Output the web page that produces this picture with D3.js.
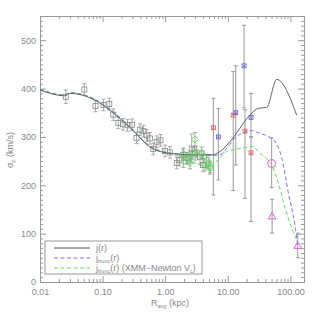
<!DOCTYPE html>
<html><head><meta charset="utf-8">
<script src="https://cdn.jsdelivr.net/npm/d3@7"></script>
<style>
body{margin:0;background:#fff;}
text{font-family:"Liberation Sans",Arial,sans-serif;fill:#888;}
</style></head>
<body><svg id="c" width="315" height="331"></svg>
<script>
// ---- data ----
const jR_r = [0.01,0.0248,0.0301,0.0703,0.147,0.306,0.571,1.07,2.78,5.8,6.97,10.8,22.6,30.4,41.8,60.4,126];
const jR_v = [397,385,390,378,350,313,279,267,263,263,267,290,345,359,361,419,345];
const blue_r = [0.01,0.0248,0.0301,0.0703,0.147,0.306,0.571,1.07,2.78,5.8,7.5,9.6,13,18.8,24,30,44,57,73,92,118,131];
const blue_v = [398,386,391,379,351,314,280,267,263,262,263,276,298,310,313,309,301,290,256,187,118,76];
const green_r = [0.01,0.0248,0.0301,0.0703,0.147,0.306,0.571,1.07,1.72,3.6,4.66,6.2,9.6,13,18.8,25.3,30.4,43.9,52.7,63.4,82,105,126];
const green_v = [399,387,392,380,352,315,281,268,259,242,236,246,270,274,278,280,270,252,236,207,153,112,87];

const sq_r = [0.0258,0.0511,0.0771,0.1033,0.128,0.148,0.178,0.212,0.250,0.295,0.348,0.396,0.450,0.506,0.571,0.645,0.731,0.841,0.993,1.19,1.53,1.69,1.95,2.29,2.65,2.99,3.60,4.02];
const sq_v = [383,398,364,366,368,346,329,326,324,325,298,315,312,303,297,275,290,293,271,268,246,252,263,256,276,266,258,242];
const sq_e = [14,12,12,12,12,12,12,12,12,12,12,12,12,12,12,12,12,12,12,12,12,12,12,12,30,14,14,14];

const dm_r = [2.99,1.95,2.20,2.49,2.75,3.18,3.83,4.06,4.60,4.88,5.20,1.95,2.49,4.33,5.20];
const dm_v = [295,265,256,259,266,269,267,259,252,246,238,249,246,242,235];
const dm_e = [14,12,12,12,12,12,12,12,12,12,12,12,12,12,12];

const red_r = [5.88,12.2,18.8,23.5];
const red_v = [319,345,312,267];
const red_lo = [180,189,173,125];
const red_hi = [380,435,356,300];
const blu_r = [7.07,13.4,18.2,23.5];
const blu_v = [300,350,447,340];
const blu_lo = [211,242,360,300];
const blu_hi = [359,447,531,390];

const circ_r = [50.2], circ_v = [245], circ_lo = [195], circ_hi = [298];
const tri_r = [51,131], tri_v = [135,74], tri_lo = [101,50], tri_hi = [171,101];

const xMajor = [0.01,0.1,1,10,100];
const xLabels = ["0.01","0.10","1.00","10.00","100.00"];
const yMajor = [0,100,200,300,400,500];

// ---- layout ----
const L=40,R=304,T=16,B=282;
const xMax = Math.pow(10, 2 + (R-290.4)/62.6);
const x = d3.scaleLog().domain([0.01,xMax]).range([L,R]);
const y = d3.scaleLinear().domain([0,550]).range([B,T]);
const svg = d3.select("#c");

const axCol="#999";
const xMinor=[];
for(let e=-2;e<=2;e++) for(let k=2;k<=9;k++){const v=k*Math.pow(10,e); if(v<xMax) xMinor.push(v);}
const yMinor=d3.range(0,551,10).filter(v=>v%100!==0);

function styleAxis(g){g.selectAll("path,line").attr("stroke",axCol);g.selectAll("text").attr("fill","#888").style("font-size","9px");}

svg.append("g").attr("transform",`translate(0,${B})`)
  .call(d3.axisBottom(x).tickValues(xMajor).tickFormat((d,i)=>xLabels[i]).tickSizeInner(-6).tickSizeOuter(0).tickPadding(7)).call(styleAxis);
svg.append("g").attr("transform",`translate(0,${B})`)
  .call(d3.axisBottom(x).tickValues(xMinor).tickFormat("").tickSizeInner(-3).tickSizeOuter(0)).call(styleAxis);
svg.append("g").attr("transform",`translate(0,${T})`)
  .call(d3.axisTop(x).tickValues(xMajor).tickFormat("").tickSizeInner(-6).tickSizeOuter(0)).call(styleAxis);
svg.append("g").attr("transform",`translate(0,${T})`)
  .call(d3.axisTop(x).tickValues(xMinor).tickFormat("").tickSizeInner(-3).tickSizeOuter(0)).call(styleAxis);
svg.append("g").attr("transform",`translate(${L},0)`)
  .call(d3.axisLeft(y).tickValues(yMajor).tickFormat(d3.format("d")).tickSizeInner(-6).tickSizeOuter(0).tickPadding(4)).call(styleAxis);
svg.append("g").attr("transform",`translate(${L},0)`)
  .call(d3.axisLeft(y).tickValues(yMinor).tickFormat("").tickSizeInner(-3).tickSizeOuter(0)).call(styleAxis);
svg.append("g").attr("transform",`translate(${R},0)`)
  .call(d3.axisRight(y).tickValues(yMajor).tickFormat("").tickSizeInner(-6).tickSizeOuter(0)).call(styleAxis);
svg.append("g").attr("transform",`translate(${R},0)`)
  .call(d3.axisRight(y).tickValues(yMinor).tickFormat("").tickSizeInner(-3).tickSizeOuter(0)).call(styleAxis);

svg.append("defs").append("clipPath").attr("id","clip").append("rect").attr("x",L).attr("y",T).attr("width",R-L).attr("height",B-T);
const plot = svg.append("g").attr("clip-path","url(#clip)");

function ebars(rs,lo,hi,col,cap){
  rs.forEach((r,i)=>{
    plot.append("line").attr("x1",x(r)).attr("x2",x(r)).attr("y1",y(lo[i])).attr("y2",y(hi[i])).attr("stroke",col).attr("stroke-width",1);
    if(cap){[lo[i],hi[i]].forEach(v=>plot.append("line").attr("x1",x(r)-2).attr("x2",x(r)+2).attr("y1",y(v)).attr("y2",y(v)).attr("stroke",col));}
  });
}
ebars(sq_r, sq_v.map((v,i)=>v-sq_e[i]), sq_v.map((v,i)=>v+sq_e[i]), "#aaa", true);
ebars(dm_r, dm_v.map((v,i)=>v-dm_e[i]), dm_v.map((v,i)=>v+dm_e[i]), "#aaa", true);
ebars(red_r, red_lo, red_hi, "#999", true);
ebars(blu_r, blu_lo, blu_hi, "#999", true);
ebars(circ_r, circ_lo, circ_hi, "#999", true);
ebars(tri_r, tri_lo, tri_hi, "#999", true);

const line = (rs,vs)=>d3.line().x((d,i)=>x(rs[i])).y((d,i)=>y(vs[i])).curve(d3.curveMonotoneX)(rs);
plot.append("path").attr("d",line(green_r,green_v)).attr("fill","none").attr("stroke","#66dd66").attr("stroke-width",1).attr("stroke-dasharray","4,2.5");
plot.append("path").attr("d",line(blue_r,blue_v)).attr("fill","none").attr("stroke","#7777ee").attr("stroke-width",1).attr("stroke-dasharray","4,2.5");
plot.append("path").attr("d",line(jR_r,jR_v)).attr("fill","none").attr("stroke","#555").attr("stroke-width",0.9);

sq_r.forEach((r,i)=>plot.append("rect").attr("x",x(r)-2.5).attr("y",y(sq_v[i])-2.5).attr("width",5).attr("height",5).attr("fill","none").attr("stroke","#888").attr("stroke-width",0.8));
dm_r.forEach((r,i)=>plot.append("path").attr("d",d3.symbol(d3.symbolDiamond2,30)()).attr("transform",`translate(${x(r)},${y(dm_v[i])})`).attr("fill","none").attr("stroke","#44dd44").attr("stroke-width",0.8));
function star(rs,vs,col){
  rs.forEach((r,i)=>{
    const g=plot.append("g").attr("transform",`translate(${x(r)},${y(vs[i])})`);
    g.append("rect").attr("x",-2).attr("y",-2).attr("width",4).attr("height",4).attr("fill","none").attr("stroke",col).attr("stroke-width",0.7);
    g.append("path").attr("d","M-1.5,-1.5L1.5,1.5M-1.5,1.5L1.5,-1.5").attr("stroke",col).attr("stroke-width",0.7);
  });
}
star(red_r,red_v,"#e05050");
star(blu_r,blu_v,"#5050e0");
circ_r.forEach((r,i)=>plot.append("circle").attr("cx",x(r)).attr("cy",y(circ_v[i])).attr("r",4).attr("fill","none").attr("stroke","#e060e0"));
tri_r.forEach((r,i)=>plot.append("path").attr("d",d3.symbol(d3.symbolTriangle2,40)()).attr("transform",`translate(${x(r)},${y(tri_v[i])})`).attr("fill","none").attr("stroke","#e060e0"));

const lg = svg.append("g");
lg.append("rect").attr("x",45).attr("y",241).attr("width",157).attr("height",33).attr("fill","#fff").attr("stroke","#999");
const items=[{c:"#555",d:null},{c:"#7777ee",d:"4,2.5"},{c:"#66dd66",d:"4,2.5"}];
items.forEach((it,i)=>{
  const yy=248+i*10;
  lg.append("line").attr("x1",54).attr("x2",90).attr("y1",yy).attr("y2",yy).attr("stroke",it.c).attr("stroke-dasharray",it.d);
});
const t0=lg.append("text").attr("x",96).attr("y",251).style("font-size","9px");
t0.append("tspan").text("j(r)");
[1,2].forEach(i=>{
  const t=lg.append("text").attr("x",96).attr("y",251+i*10).style("font-size","9px");
  t.append("tspan").text("j");
  t.append("tspan").text("trunc").style("font-size","5.5px").attr("dy","2");
  t.append("tspan").text("(r)").attr("dy","-2");
  if(i===2){t.append("tspan").text("  (XMM\u2212Newton V");t.append("tspan").text("c").style("font-size","5.5px").attr("dy","2");t.append("tspan").text(")").attr("dy","-2");}
});

const xt=svg.append("text").attr("x",170).attr("y",306).attr("text-anchor","middle").style("font-size","9px");
xt.append("tspan").text("R");
xt.append("tspan").text("avg").style("font-size","5.5px").attr("dy","2");
xt.append("tspan").text(" (kpc)").attr("dy","-2");
const yt=svg.append("text").attr("transform","translate(13,150) rotate(-90)").attr("text-anchor","middle").style("font-size","9px");
yt.append("tspan").text("\u03c3");
yt.append("tspan").text("p").style("font-size","5.5px").attr("dy","2");
yt.append("tspan").text(" (km/s)").attr("dy","-2");
</script></body></html>
